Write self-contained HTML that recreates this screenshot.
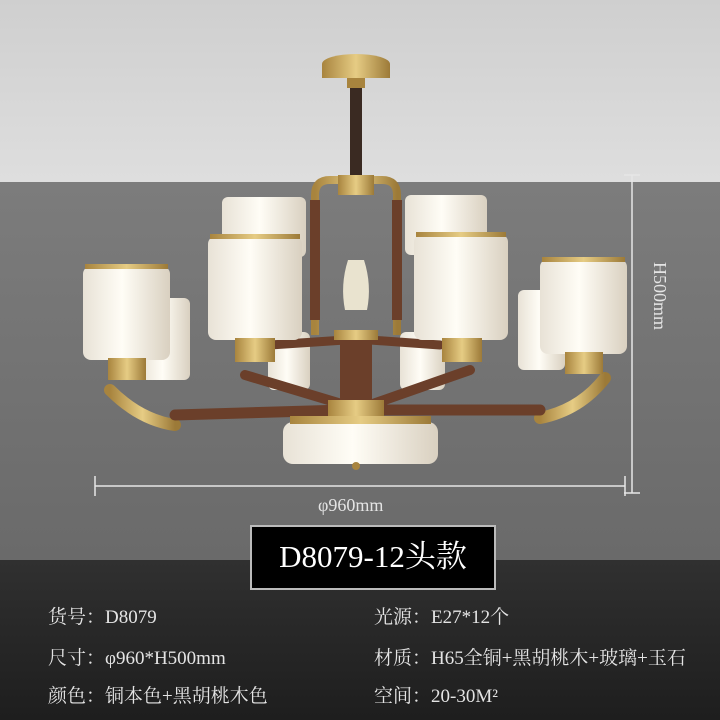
<!DOCTYPE html>
<html><head><meta charset="utf-8"><style>
body{margin:0;width:720px;height:720px;overflow:hidden;font-family:"Liberation Serif","Noto Serif CJK SC",serif;}
#bg{position:absolute;left:0;top:0;width:720px;height:720px;}
.t{position:absolute;color:#e4e4e4;font-size:19px;white-space:nowrap;}
#box{position:absolute;left:250px;top:525px;width:246px;height:65px;background:#000;border:2px solid #bbb;box-sizing:border-box;color:#fff;font-size:31px;text-align:center;line-height:60px;}
</style></head><body>
<svg id="bg" width="720" height="720" viewBox="0 0 720 720">
<defs>
<linearGradient id="ceil" x1="0" y1="0" x2="0" y2="1"><stop offset="0" stop-color="#cfcfcf"/><stop offset="1" stop-color="#dedede"/></linearGradient>
<linearGradient id="wall" x1="0" y1="0" x2="0" y2="1"><stop offset="0" stop-color="#7c7c7c"/><stop offset="1" stop-color="#6a6a6a"/></linearGradient>
<linearGradient id="dark" x1="0" y1="0" x2="0" y2="1"><stop offset="0" stop-color="#303030"/><stop offset="1" stop-color="#1e1e1e"/></linearGradient>
<linearGradient id="shade" x1="0" y1="0" x2="1" y2="0"><stop offset="0" stop-color="#e8e2d6"/><stop offset="0.45" stop-color="#fffdf6"/><stop offset="1" stop-color="#d9d0c0"/></linearGradient>
<linearGradient id="gold" x1="0" y1="0" x2="1" y2="0"><stop offset="0" stop-color="#a8843e"/><stop offset="0.5" stop-color="#e6cc84"/><stop offset="1" stop-color="#9c7a38"/></linearGradient>
</defs>
<rect width="720" height="182" fill="url(#ceil)"/>
<rect y="182" width="720" height="378" fill="url(#wall)"/>
<rect y="560" width="720" height="160" fill="url(#dark)"/>
<!-- dimension lines -->
<g stroke="#e6e6e6" stroke-width="1.5" fill="none">
<line x1="632" y1="175" x2="632" y2="493"/><line x1="624" y1="175" x2="640" y2="175"/><line x1="624" y1="493" x2="640" y2="493"/>
<line x1="95" y1="486" x2="625" y2="486"/><line x1="95" y1="476" x2="95" y2="496"/><line x1="625" y1="476" x2="625" y2="496"/>
</g>
<!-- canopy & chain -->
<ellipse cx="356" cy="64" rx="34" ry="10" fill="url(#gold)"/>
<rect x="322" y="64" width="68" height="14" fill="url(#gold)"/>
<rect x="347" y="78" width="18" height="10" fill="#a8843e"/>
<rect x="350" y="88" width="12" height="92" fill="#3a2a22"/>
<!-- central frame -->
<path d="M315 335 L315 195 Q315 180 330 180 L382 180 Q397 180 397 195 L397 335" stroke="url(#gold)" stroke-width="8" fill="none"/>
<rect x="310" y="200" width="10" height="120" fill="#6b3f2a"/>
<rect x="392" y="200" width="10" height="120" fill="#6b3f2a"/>
<rect x="338" y="175" width="36" height="20" fill="url(#gold)"/>
<path d="M348 260 Q340 285 345 310 L367 310 Q372 285 364 260Z" fill="#e9e3cf"/>
<!-- back shades -->
<rect x="222" y="197" width="84" height="60" rx="6" fill="url(#shade)"/>
<rect x="405" y="195" width="82" height="60" rx="6" fill="url(#shade)"/>
<rect x="140" y="298" width="50" height="82" rx="6" fill="url(#shade)"/>
<rect x="518" y="290" width="47" height="80" rx="6" fill="url(#shade)"/>
<rect x="268" y="332" width="42" height="58" rx="6" fill="url(#shade)"/>
<rect x="400" y="332" width="45" height="58" rx="6" fill="url(#shade)"/>
<!-- arms -->
<g stroke-linecap="round">
<path d="M110 390 Q140 420 175 425" stroke="url(#gold)" stroke-width="12" fill="none"/>
<path d="M605 378 Q580 410 540 418" stroke="url(#gold)" stroke-width="12" fill="none"/>
<line x1="175" y1="415" x2="345" y2="410" stroke="#6b3f2a" stroke-width="11"/>
<line x1="540" y1="410" x2="370" y2="410" stroke="#6b3f2a" stroke-width="11"/>
<line x1="245" y1="375" x2="345" y2="405" stroke="#6b3f2a" stroke-width="10"/>
<line x1="470" y1="370" x2="370" y2="405" stroke="#6b3f2a" stroke-width="10"/>
<line x1="270" y1="345" x2="345" y2="340" stroke="#6b3f2a" stroke-width="9"/>
<line x1="440" y1="345" x2="370" y2="340" stroke="#6b3f2a" stroke-width="9"/>
</g>
<rect x="340" y="330" width="32" height="80" fill="#6b3f2a"/>
<rect x="334" y="330" width="44" height="10" fill="url(#gold)"/>
<rect x="328" y="400" width="56" height="20" fill="url(#gold)"/>
<!-- bottom disc -->
<rect x="283" y="422" width="155" height="42" rx="10" fill="url(#shade)"/>
<rect x="290" y="416" width="141" height="8" fill="url(#gold)"/>
<circle cx="356" cy="466" r="4" fill="#a8843e"/>
<!-- front shades -->
<rect x="83" y="266" width="87" height="94" rx="8" fill="url(#shade)"/>
<rect x="85" y="264" width="83" height="5" fill="url(#gold)"/>
<rect x="540" y="259" width="87" height="95" rx="8" fill="url(#shade)"/>
<rect x="542" y="257" width="83" height="5" fill="url(#gold)"/>
<rect x="208" y="236" width="94" height="104" rx="8" fill="url(#shade)"/>
<rect x="210" y="234" width="90" height="5" fill="url(#gold)"/>
<rect x="414" y="234" width="94" height="106" rx="8" fill="url(#shade)"/>
<rect x="416" y="232" width="90" height="5" fill="url(#gold)"/>
<!-- cups -->
<rect x="108" y="358" width="38" height="22" fill="url(#gold)"/>
<rect x="565" y="352" width="38" height="22" fill="url(#gold)"/>
<rect x="235" y="338" width="40" height="24" fill="url(#gold)"/>
<rect x="442" y="338" width="40" height="24" fill="url(#gold)"/>
</svg>
<div class="t" style="left:318px;top:495px;font-size:18px;">φ960mm</div>
<div class="t" style="left:648px;top:262px;font-size:18px;transform:rotate(90deg);transform-origin:0 0;left:670px;">H500mm</div>
<div id="box">D8079-12头款</div>
<div class="t" style="left:48px;top:602px;">货号：D8079</div>
<div class="t" style="left:48px;top:643px;">尺寸：φ960*H500mm</div>
<div class="t" style="left:48px;top:681px;">颜色：铜本色+黑胡桃木色</div>
<div class="t" style="left:374px;top:602px;">光源：E27*12个</div>
<div class="t" style="left:374px;top:643px;">材质：H65全铜+黑胡桃木+玻璃+玉石</div>
<div class="t" style="left:374px;top:681px;">空间：20-30M²</div>
</body></html>
